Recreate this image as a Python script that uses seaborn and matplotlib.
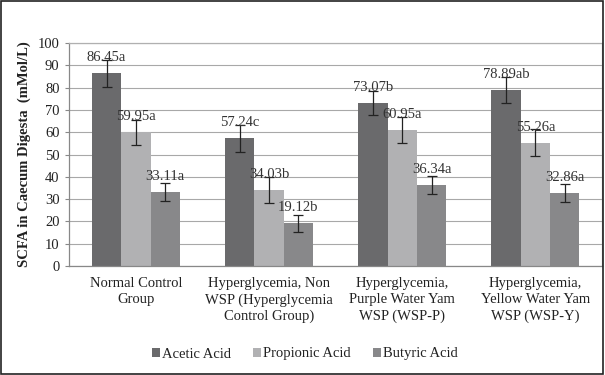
import pandas as pd
import matplotlib.pyplot as plt
import seaborn as sns
from matplotlib.patches import Patch, Rectangle

# ---------------------------------------------------------
# 1. DATA
# ---------------------------------------------------------
groups = ['Normal Control\nGroup',
          'Hyperglycemia, Non\nWSP (Hyperglycemia\nControl Group)',
          'Hyperglycemia,\nPurple Water Yam\nWSP (WSP-P)',
          'Hyperglycemia,\nYellow Water Yam\nWSP (WSP-Y)']
acids = ['Acetic Acid', 'Propionic Acid', 'Butyric Acid']

acetic = [86.45, 57.24, 73.07, 78.89]
propionic = [59.95, 34.03, 60.95, 55.26]
butyric = [33.11, 19.12, 36.34, 32.86]

acetic_err = [6.0, 6.0, 5.5, 6.0]
propionic_err = [5.7, 6.0, 5.7, 6.0]
butyric_err = [4.0, 3.8, 4.0, 4.0]

acetic_lbl = ['86.45a', '57.24c', '73.07b', '78.89ab']
propionic_lbl = ['59.95a', '34.03b', '60.95a', '55.26a']
butyric_lbl = ['33.11a', '19.12b', '36.34a', '32.86a']

colors = ['#6a6a6c', '#b1b1b3', '#88888a']

values = [acetic, propionic, butyric]
errors = [acetic_err, propionic_err, butyric_err]
labels = [acetic_lbl, propionic_lbl, butyric_lbl]

df = pd.DataFrame({
    'group': groups * 3,
    'acid': [a for a in acids for _ in groups],
    'value': acetic + propionic + butyric,
})

# ---------------------------------------------------------
# 2. PLOT
# ---------------------------------------------------------
sns.set_style('white')
plt.rcParams['font.family'] = ['Liberation Serif', 'DejaVu Serif']

fig = plt.figure(figsize=(6.05, 3.75), dpi=100)
ax = fig.add_axes([0.1145, 0.2907, 0.8805, 0.5946])

sns.barplot(data=df, x='group', y='value', hue='acid', order=groups,
            hue_order=acids, palette=colors, width=0.66, errorbar=None,
            saturation=1, linewidth=0, ax=ax, legend=False, zorder=2)

# error bars + value labels
for cont, err, lbl, val in zip(ax.containers, errors, labels, values):
    xs = [b.get_x() + b.get_width() / 2 for b in cont]
    ax.errorbar(xs, val, yerr=err, fmt='none', ecolor='#222222',
                elinewidth=0.9, capsize=3.3, capthick=0.9, zorder=3)
    for x, v, t in zip(xs, val, lbl):
        ax.text(x, v + 7, t, ha='center', va='center', fontsize=10.5,
                color='#333333', zorder=4)

ax.set_ylim(0, 100)
ax.set_xlim(-0.5, 3.5)
ax.set_yticks(range(0, 101, 10))
ax.yaxis.grid(True, color='#a8a8a8', linewidth=0.8)
ax.set_axisbelow(True)
ax.tick_params(axis='y', which='both', left=True, length=3, width=0.8,
               color='#888888', labelsize=10.5, labelcolor='#222222', pad=4)
ax.tick_params(axis='x', length=0, labelsize=10.5, labelcolor='#222222', pad=8)
for lab in ax.get_xticklabels():
    lab.set_linespacing(1.3)
    lab.set_va('top')

ax.set_xlabel('')
ax.set_ylabel('SCFA in Caecum Digesta  (mMol/L)', fontsize=10.5,
              fontweight='bold', color='#222222', labelpad=5)

for side in ['left', 'bottom']:
    ax.spines[side].set_color('#888888')
    ax.spines[side].set_linewidth(0.9)
for side in ['top', 'right']:
    ax.spines[side].set_visible(True)
    ax.spines[side].set_color('#b0b0b0')
    ax.spines[side].set_linewidth(0.9)

# legend below the categories
handles = [Patch(facecolor=c, edgecolor='none') for c in colors]
fig.legend(handles, acids, loc='center', bbox_to_anchor=(305 / 605, 1 - 354 / 375),
           ncol=3, frameon=False, prop={'family': 'Liberation Serif', 'size': 10.5},
           handlelength=0.55, handleheight=0.55, handletextpad=0.15,
           columnspacing=1.5, labelcolor='#222222')

# outer frame round the whole image
fig.patches.append(Rectangle((0.002, 0.003), 0.994, 0.994, transform=fig.transFigure,
                             fill=False, edgecolor='#222222', linewidth=1.2))

fig.savefig('out.png', dpi=100)
